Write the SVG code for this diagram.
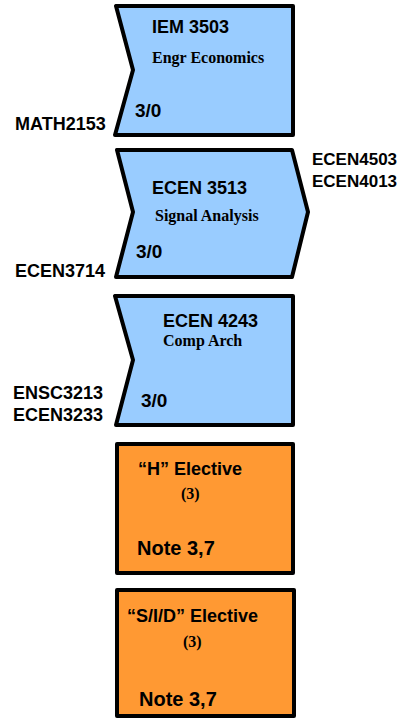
<svg xmlns="http://www.w3.org/2000/svg" width="407" height="718" viewBox="0 0 407 718">
<style>
.blue{fill:#99CCFF;stroke:#000;stroke-width:4;stroke-linejoin:round}
.orange{fill:#FF9933;stroke:#000;stroke-width:4;stroke-linejoin:round}
.t{font-family:"Liberation Sans",Arial,sans-serif;font-weight:bold;fill:#000}
.s{font-family:"Liberation Serif","Times New Roman",serif;font-weight:bold;fill:#000;font-size:16px}
.c{font-size:18px}
.p{font-size:17px}
.l{font-size:18px}
.n{font-size:19px}
.note{font-size:20px}
</style>
<rect width="407" height="718" fill="#fff"/>
<g id="connectors"/>
<g id="iem3503">
<path class="blue" d="M116,6 L293,6 L293,135 L115,135 L133,70 Z"/>
<text class="t c" x="152" y="33">IEM 3503</text>
<text class="s" x="152" y="63">Engr Economics</text>
<text class="t n" x="135" y="117">3/0</text>
<text class="t l" x="15" y="130">MATH2153</text>
</g>
<g id="ecen3513">
<path class="blue" d="M117,150 L292,150 L308,212 L292,277 L116,277 L133,212 Z"/>
<text class="t c" x="152" y="194">ECEN 3513</text>
<text class="s" x="155" y="221">Signal Analysis</text>
<text class="t n" x="136" y="258">3/0</text>
<text class="t l" x="15" y="277">ECEN3714</text>
<text class="t p" x="312" y="165">ECEN4503</text>
<text class="t p" x="312" y="187">ECEN4013</text>
</g>
<g id="ecen4243">
<path class="blue" d="M115,296 L293,296 L293,425 L116,425 L133,360 Z"/>
<text class="t c" x="163" y="327">ECEN 4243</text>
<text class="s" x="163" y="346">Comp Arch</text>
<text class="t n" x="141" y="407">3/0</text>
<text class="t l" x="13" y="399">ENSC3213</text>
<text class="t l" x="13" y="421">ECEN3233</text>
</g>
<g id="h-elective">
<rect class="orange" x="117" y="444" width="176" height="129"/>
<text class="t c" x="138" y="475">“H” Elective</text>
<text class="s" x="181" y="499">(3)</text>
<text class="t note" x="137" y="555">Note 3,7</text>
</g>
<g id="sid-elective">
<rect class="orange" x="117" y="590" width="177" height="126"/>
<text class="t c" x="127" y="622">“S/I/D” Elective</text>
<text class="s" x="183" y="647">(3)</text>
<text class="t note" x="139" y="706">Note 3,7</text>
</g>
</svg>
